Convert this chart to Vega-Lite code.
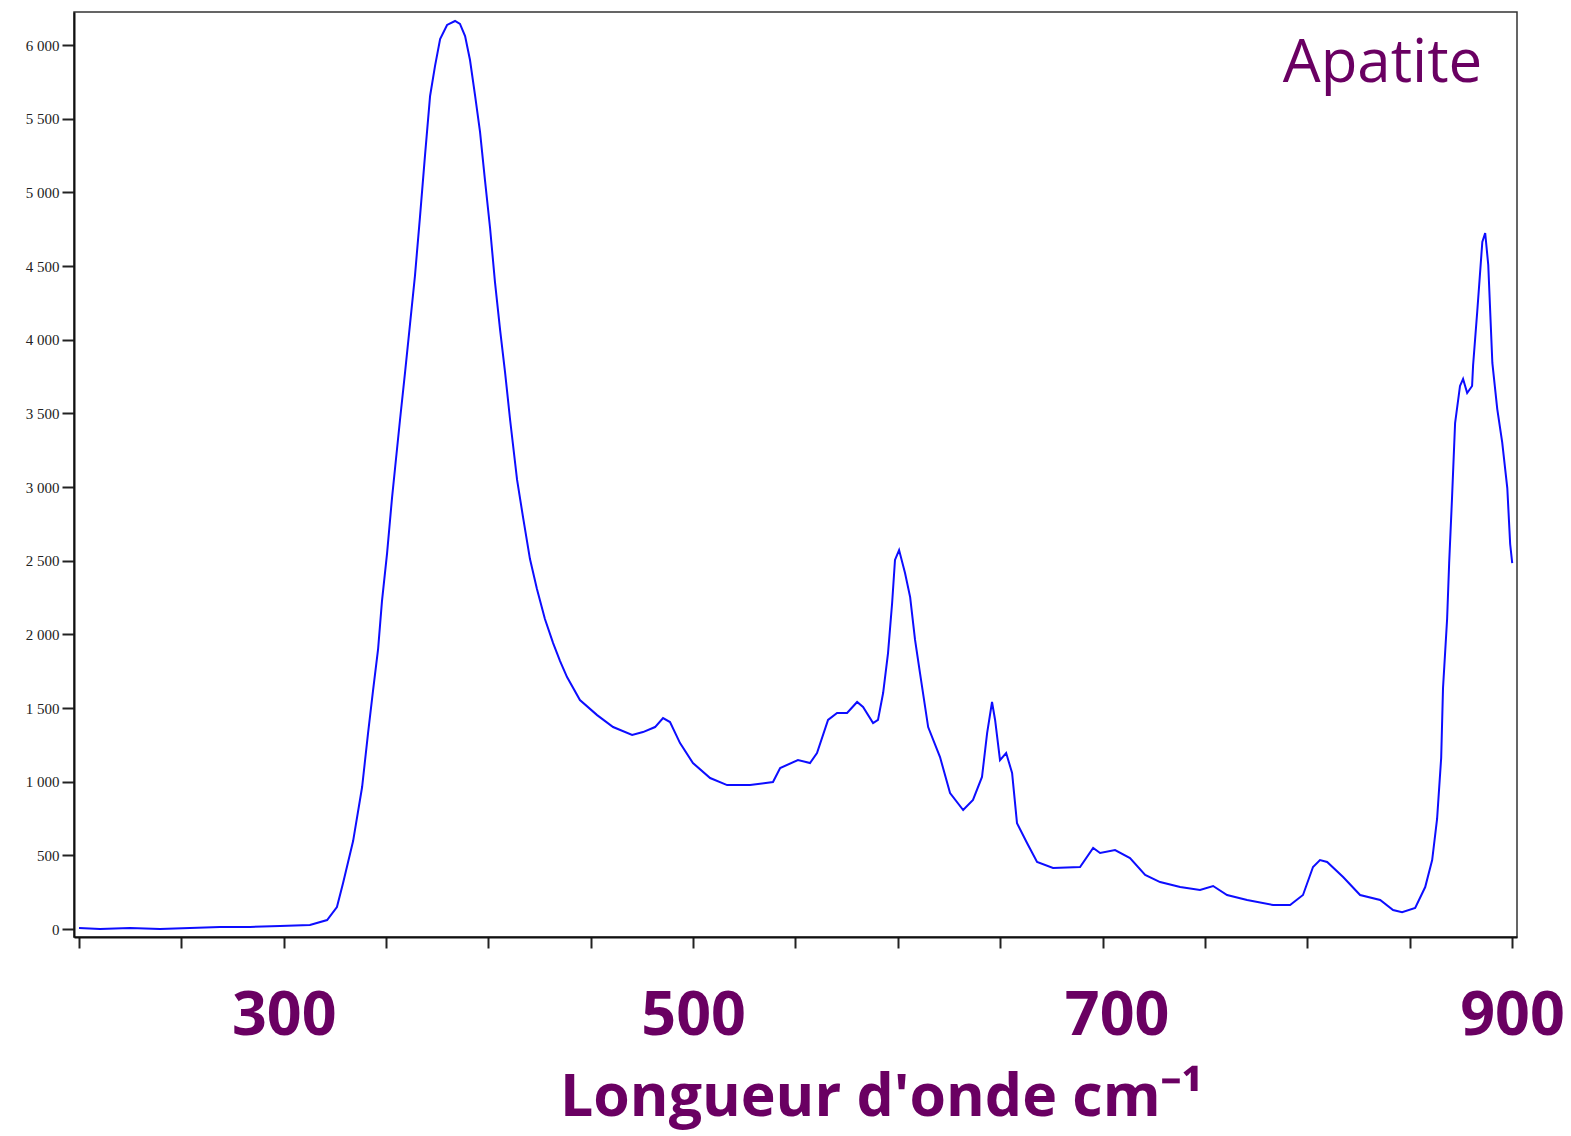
{
  "$schema": "https://vega.github.io/schema/vega-lite/v6.json",
  "width": 1443,
  "height": 925,
  "autosize": {"type": "none"},
  "padding": {"left": 74, "top": 12, "right": 54, "bottom": 199},
  "background": "white",
  "config": {"view": {"stroke": "#333333", "strokeWidth": 1.5}},
  "layer": [
    {
      "data": {"values": [
        {"x": 200.0, "y": 7}, {"x": 210.3, "y": 0}, {"x": 224.9, "y": 7}, {"x": 239.6, "y": 0},
        {"x": 254.2, "y": 7}, {"x": 268.9, "y": 14}, {"x": 283.5, "y": 14}, {"x": 298.2, "y": 20},
        {"x": 312.8, "y": 27}, {"x": 321.2, "y": 61}, {"x": 326.0, "y": 149}, {"x": 329.0, "y": 312},
        {"x": 333.9, "y": 597}, {"x": 338.3, "y": 964}, {"x": 341.2, "y": 1330}, {"x": 343.6, "y": 1615},
        {"x": 346.1, "y": 1900}, {"x": 348.0, "y": 2226}, {"x": 350.5, "y": 2552}, {"x": 352.9, "y": 2925},
        {"x": 354.4, "y": 3129}, {"x": 356.8, "y": 3455}, {"x": 359.3, "y": 3781}, {"x": 361.7, "y": 4106},
        {"x": 364.1, "y": 4432}, {"x": 366.6, "y": 4839}, {"x": 369.0, "y": 5247}, {"x": 371.5, "y": 5654},
        {"x": 373.9, "y": 5857}, {"x": 376.4, "y": 6041}, {"x": 379.8, "y": 6136}, {"x": 383.7, "y": 6163},
        {"x": 386.1, "y": 6143}, {"x": 388.6, "y": 6061}, {"x": 391.0, "y": 5898}, {"x": 393.5, "y": 5654},
        {"x": 395.9, "y": 5410}, {"x": 398.3, "y": 5084}, {"x": 400.8, "y": 4758}, {"x": 403.2, "y": 4391},
        {"x": 405.7, "y": 4066}, {"x": 408.1, "y": 3781}, {"x": 410.6, "y": 3455}, {"x": 414.0, "y": 3048},
        {"x": 416.9, "y": 2796}, {"x": 420.3, "y": 2511}, {"x": 423.7, "y": 2308}, {"x": 427.6, "y": 2104},
        {"x": 431.6, "y": 1941}, {"x": 435.0, "y": 1819}, {"x": 438.4, "y": 1710}, {"x": 444.7, "y": 1554},
        {"x": 453.1, "y": 1452}, {"x": 460.9, "y": 1371}, {"x": 470.2, "y": 1317}, {"x": 475.5, "y": 1337},
        {"x": 481.4, "y": 1371}, {"x": 485.3, "y": 1432}, {"x": 488.7, "y": 1405}, {"x": 493.6, "y": 1262},
        {"x": 499.9, "y": 1127}, {"x": 508.3, "y": 1025}, {"x": 516.6, "y": 977}, {"x": 527.8, "y": 977},
        {"x": 539.0, "y": 998}, {"x": 542.5, "y": 1093}, {"x": 551.2, "y": 1147}, {"x": 557.1, "y": 1127},
        {"x": 560.5, "y": 1195}, {"x": 565.9, "y": 1419}, {"x": 570.3, "y": 1466}, {"x": 575.2, "y": 1466},
        {"x": 580.1, "y": 1541}, {"x": 583.0, "y": 1507}, {"x": 587.9, "y": 1398}, {"x": 590.3, "y": 1419},
        {"x": 592.8, "y": 1602}, {"x": 595.2, "y": 1873}, {"x": 597.2, "y": 2213}, {"x": 598.6, "y": 2505},
        {"x": 600.6, "y": 2572}, {"x": 603.5, "y": 2416}, {"x": 606.0, "y": 2253}, {"x": 608.4, "y": 1962},
        {"x": 610.8, "y": 1738}, {"x": 614.8, "y": 1371}, {"x": 620.6, "y": 1167}, {"x": 625.5, "y": 923},
        {"x": 631.9, "y": 808}, {"x": 636.7, "y": 876}, {"x": 641.1, "y": 1032}, {"x": 643.6, "y": 1330},
        {"x": 646.0, "y": 1541}, {"x": 647.5, "y": 1419}, {"x": 649.9, "y": 1147}, {"x": 652.9, "y": 1195},
        {"x": 655.8, "y": 1059}, {"x": 658.2, "y": 719}, {"x": 663.1, "y": 584}, {"x": 668.0, "y": 455},
        {"x": 675.8, "y": 414}, {"x": 689.0, "y": 421}, {"x": 695.4, "y": 550}, {"x": 698.8, "y": 516},
        {"x": 706.1, "y": 536}, {"x": 713.4, "y": 482}, {"x": 720.8, "y": 367}, {"x": 728.1, "y": 319},
        {"x": 737.9, "y": 285}, {"x": 747.6, "y": 265}, {"x": 754.0, "y": 292}, {"x": 760.8, "y": 231},
        {"x": 770.6, "y": 197}, {"x": 783.3, "y": 163}, {"x": 791.6, "y": 163}, {"x": 797.9, "y": 231},
        {"x": 802.8, "y": 421}, {"x": 806.2, "y": 468}, {"x": 809.7, "y": 455}, {"x": 817.5, "y": 353},
        {"x": 825.8, "y": 231}, {"x": 835.6, "y": 197}, {"x": 841.9, "y": 129}, {"x": 846.3, "y": 115},
        {"x": 852.7, "y": 143}, {"x": 857.6, "y": 285}, {"x": 861.0, "y": 468}, {"x": 863.4, "y": 747},
        {"x": 865.4, "y": 1161}, {"x": 866.3, "y": 1636}, {"x": 868.3, "y": 2104}, {"x": 869.3, "y": 2484},
        {"x": 870.7, "y": 2925}, {"x": 872.2, "y": 3434}, {"x": 874.6, "y": 3686}, {"x": 876.1, "y": 3733},
        {"x": 878.1, "y": 3638}, {"x": 880.5, "y": 3686}, {"x": 881.0, "y": 3828}, {"x": 883.0, "y": 4188},
        {"x": 885.5, "y": 4663}, {"x": 886.9, "y": 4724}, {"x": 888.4, "y": 4507}, {"x": 890.4, "y": 3842},
        {"x": 892.8, "y": 3529}, {"x": 895.2, "y": 3305}, {"x": 897.7, "y": 2993}, {"x": 899.1, "y": 2613},
        {"x": 900.1, "y": 2484}
      ]},
      "mark": {"type": "line", "color": "#0d0dff", "strokeWidth": 2, "interpolate": "linear"},
      "encoding": {
        "x": {
          "field": "x", "type": "quantitative",
          "scale": {"domain": [197.56, 902.44], "nice": false, "zero": false},
          "axis": {
            "values": [200, 250, 300, 350, 400, 450, 500, 550, 600, 650, 700, 750, 800, 850, 900],
            "format": "d",
            "labelExpr": "indexof([300, 500, 700, 900], datum.value) >= 0 ? datum.label : ''",
            "labelFont": "Open Sans", "labelFontSize": 61, "labelFontWeight": "bold", "labelColor": "#6a0062",
            "labelPadding": 38, "labelOverlap": false, "labelBound": false, "labelFlush": false,
            "labelOffset": {"condition": {"test": "datum.value === 700", "value": 14}, "value": 0},
            "tickSize": 11, "tickWidth": 2, "tickColor": "#222222",
            "domainColor": "#111111", "domainWidth": 2, "grid": false,
            "title": "Longueur d'onde  cm⁻¹",
            "titleFont": "Open Sans", "titleFontSize": 59, "titleFontWeight": "bold", "titleColor": "#6a0062",
            "titleX": 807, "titleY": 178, "titleAlign": "center", "titleBaseline": "alphabetic"
          }
        },
        "y": {
          "field": "y", "type": "quantitative",
          "scale": {"domain": [-54, 6224], "nice": false, "zero": false},
          "axis": {
            "values": [0, 250, 500, 750, 1000, 1250, 1500, 1750, 2000, 2250, 2500, 2750, 3000, 3250, 3500, 3750, 4000, 4250, 4500, 4750, 5000, 5250, 5500, 5750, 6000],
            "labelExpr": "datum.value % 500 === 0 ? replace(format(datum.value, ','), ',', ' ') : ''",
            "labelFont": "Liberation Serif", "labelFontSize": 15, "labelColor": "#222222",
            "labelPadding": 3, "labelOverlap": false,
            "tickSize": {"condition": {"test": "datum.value % 500 === 0", "value": 12}, "value": 7},
            "tickWidth": 2, "tickColor": "#222222",
            "domainColor": "#111111", "domainWidth": 2, "grid": false,
            "title": null
          }
        }
      }
    },
    {
      "data": {"values": [{"label": "Apatite"}]},
      "mark": {"type": "text", "align": "right", "baseline": "alphabetic", "font": "Open Sans", "fontSize": 60, "color": "#6a0062"},
      "encoding": {
        "x": {"datum": 885.5, "type": "quantitative"},
        "y": {"datum": 5749, "type": "quantitative"},
        "text": {"field": "label", "type": "nominal"}
      }
    }
  ]
}
